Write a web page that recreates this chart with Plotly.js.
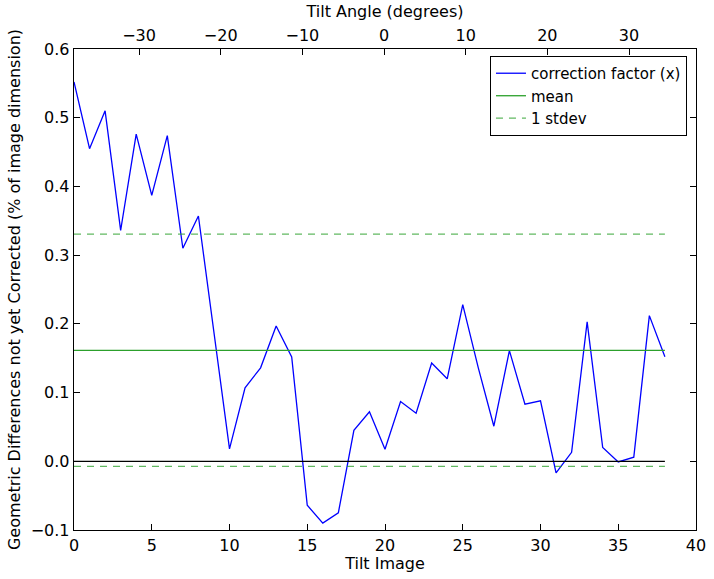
<!DOCTYPE html>
<html>
<head>
<meta charset="utf-8">
<script src="https://cdn.plot.ly/plotly-3.0.1.min.js"></script>
<style>html,body{margin:0;padding:0;background:#fff;}#chart{width:714px;height:579px;}</style>
</head>
<body>
<div id="chart"></div>
<script>
// Data
const tiltImage = [0,1,2,3,4,5,6,7,8,9,10,11,12,13,14,15,16,17,18,19,20,21,22,23,24,25,26,27,28,29,30,31,32,33,34,35,36,37,38];
const correctionX = [0.552,0.455,0.510,0.336,0.476,0.387,0.474,0.310,0.357,0.190,0.018,0.107,0.136,0.197,0.152,-0.064,-0.090,-0.075,0.045,0.072,0.0175,0.087,0.070,0.143,0.120,0.228,0.136,0.051,0.161,0.083,0.088,-0.017,0.013,0.203,0.020,-0.001,0.006,0.212,0.152];
const meanValue = 0.1615;
const stdevValue = 0.169;
const lineSpan = [0, 38];
const tiltAngleRange = [-37.96, 38.2];
const yTicks = [-0.1,0,0.1,0.2,0.3,0.4,0.5,0.6];
const xTicks = [0,5,10,15,20,25,30,35,40];
const angleTicks = [-30,-20,-10,0,10,20,30];

const font = {family: 'DejaVu Sans, sans-serif', size: 16, color: '#000'};

const traces = [
  {x: tiltImage, y: correctionX, type: 'scatter', mode: 'lines', name: 'correction factor (x)',
   line: {color: '#0000ff', width: 1.3}},
  {x: lineSpan, y: [meanValue, meanValue], type: 'scatter', mode: 'lines', name: 'mean',
   line: {color: '#2ca02c', width: 1.3}},
  {x: lineSpan, y: [meanValue + stdevValue, meanValue + stdevValue], type: 'scatter', mode: 'lines', name: '1 stdev',
   line: {color: 'rgba(44,160,44,0.75)', width: 1.3, dash: '7px,6px'}, legendgroup: 'sd'},
  {x: lineSpan, y: [meanValue - stdevValue, meanValue - stdevValue], type: 'scatter', mode: 'lines', name: '1 stdev',
   line: {color: 'rgba(44,160,44,0.75)', width: 1.3, dash: '7px,6px'}, legendgroup: 'sd', showlegend: false},
  {x: lineSpan, y: [0, 0], type: 'scatter', mode: 'lines', showlegend: false,
   line: {color: '#000', width: 1.3}},
  {x: tiltAngleRange, y: [null, null], type: 'scatter', mode: 'lines', xaxis: 'x2', showlegend: false, hoverinfo: 'skip'}
];

const layout = {
  width: 714, height: 579,
  margin: {l: 74, r: 18, t: 49, b: 49},
  paper_bgcolor: '#fff', plot_bgcolor: '#fff',
  font: font,
  showlegend: true,
  legend: {x: 0.9855, y: 0.9855, xanchor: 'right', yanchor: 'top',
    bordercolor: '#000', borderwidth: 1, bgcolor: '#fff',
    font: {family: 'DejaVu Sans, sans-serif', size: 15}, tracegroupgap: 0},
  xaxis: {
    range: [0, 40], tickvals: xTicks, ticks: 'inside', ticklen: 6, tickcolor: '#000',
    showline: true, linecolor: '#000', linewidth: 1.3, mirror: false, showgrid: false, zeroline: false,
    title: {text: 'Tilt Image', font: font, standoff: 2}, tickfont: font
  },
  xaxis2: {
    overlaying: 'x', side: 'top', range: tiltAngleRange, tickvals: angleTicks,
    ticks: 'inside', ticklen: 6, tickcolor: '#000',
    showline: true, linecolor: '#000', linewidth: 1.3, showgrid: false, zeroline: false,
    title: {text: 'Tilt Angle (degrees)', font: font, standoff: 4}, tickfont: font
  },
  yaxis: {
    range: [-0.1, 0.6], tickvals: yTicks, tickformat: '.1f', ticks: 'inside', ticklen: 6, tickcolor: '#000',
    showline: true, linecolor: '#000', linewidth: 1.3, mirror: 'ticks', showgrid: false, zeroline: false,
    title: {text: 'Geometric Differences not yet Corrected (% of image dimension)', font: font, standoff: 6},
    tickfont: font
  }
};

Plotly.newPlot('chart', traces, layout, {displayModeBar: false, staticPlot: true});
</script>
</body>
</html>
